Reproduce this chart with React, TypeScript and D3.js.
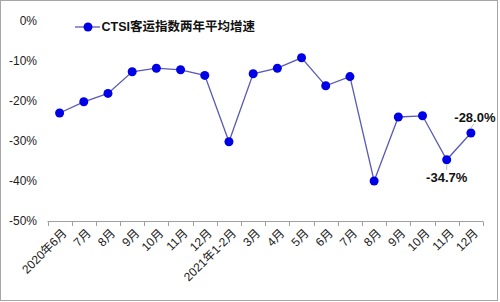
import React from "react";
import * as d3 from "d3";

const categories = ["2020年6月", "7月", "8月", "9月", "10月", "11月", "12月", "2021年1-2月", "3月", "4月", "5月", "6月", "7月", "8月", "9月", "10月", "11月", "12月"];
const values = [-23.0, -20.2, -18.1, -12.7, -11.8, -12.2, -13.6, -30.2, -13.2, -11.8, -9.2, -16.2, -13.9, -40.0, -24.0, -23.7, -34.7, -28.0];
const yTicks = [0, -10, -20, -30, -40, -50];
const seriesName = "CTSI客运指数两年平均增速";
const labelled = [
  { index: 16, text: "-34.7%", pos: "below" },
  { index: 17, text: "-28.0%", pos: "above" },
];

const W = 500, H = 302;
const FONT = "'Liberation Sans', Arial, 'Noto Sans CJK SC', sans-serif";

export default function App() {
  const x = d3.scaleBand<number>().domain(d3.range(categories.length)).range([47.5, 483]);
  const y = d3.scaleLinear().domain([-50, 0]).range([221, 21]);
  const cx = (i: number) => (x(i) as number) + x.bandwidth() / 2;
  const line = d3.line<number>().x((_, i) => cx(i)).y((d) => y(d));
  const lineColor = "#5a5ab4";
  const dotColor = "#0000e6";

  return (
    <svg width={W} height={H} style={{ position: "absolute", left: 0, top: 0 }} fontFamily={FONT}>
      <rect x={0.5} y={0.5} width={497} height={300} fill="#fff" stroke="#a6a6a6" />
      {yTicks.map((t) => (
        <text key={t} x={37} y={y(t)} dy="0.35em" textAnchor="end" fontSize={12} fill="#222">
          {t + "%"}
        </text>
      ))}
      <line x1={47.5} x2={483} y1={221.5} y2={221.5} stroke="#a0a0a0" />
      {d3.range(categories.length + 1).map((i) => {
        const xx = Math.round(47.5 + i * x.step()) + 0.5;
        return <line key={i} x1={xx} x2={xx} y1={221.5} y2={226} stroke="#a0a0a0" />;
      })}
      {categories.map((c, i) => (
        <text key={i} transform={`translate(${cx(i) + 2},${228}) rotate(-45)`} textAnchor="end" dy="0.7em" fontSize={12} fill="#222">
          {c}
        </text>
      ))}
      <path d={line(values) || ""} fill="none" stroke={lineColor} strokeWidth={1.3} />
      {values.map((v, i) => (
        <circle key={i} cx={cx(i)} cy={y(v)} r={4.5} fill={dotColor} />
      ))}
      {labelled.map((l) => {
        const px = cx(l.index), py = y(values[l.index]);
        if (l.pos === "above") {
          return (
            <g key={l.index}>
              <line x1={px} y1={py - 5} x2={px + 3} y2={py - 9} stroke="#bbb" />
              <text x={px + 4} y={py - 11} textAnchor="middle" fontSize={13} fontWeight="bold" fill="#111">{l.text}</text>
            </g>
          );
        }
        return (
          <g key={l.index}>
            <line x1={px} y1={py + 5} x2={px} y2={py + 10} stroke="#bbb" />
            <text x={px} y={py + 22} textAnchor="middle" fontSize={13} fontWeight="bold" fill="#111">{l.text}</text>
          </g>
        );
      })}
      <line x1={75} x2={100} y1={27} y2={27} stroke={lineColor} strokeWidth={1.3} />
      <circle cx={88} cy={27} r={4.5} fill={dotColor} />
      <text x={101.5} y={27} dy="0.35em" fontSize={12.5} fontWeight="bold" fill="#111">{seriesName}</text>
    </svg>
  );
}
